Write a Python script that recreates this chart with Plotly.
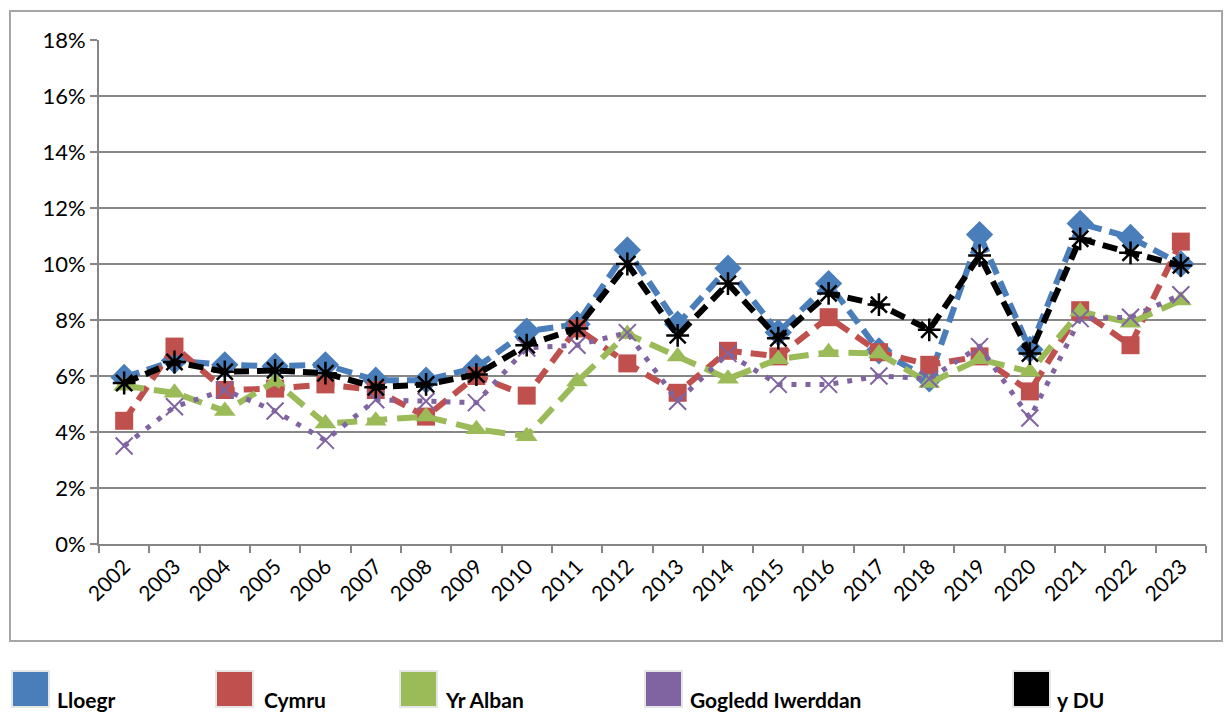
import plotly.graph_objects as go

years = [str(y) for y in range(2002, 2024)]

lloegr = [5.95, 6.55, 6.4, 6.35, 6.4, 5.85, 5.85, 6.3, 7.6, 7.85, 10.5, 7.85, 9.85, 7.55, 9.3, 6.9, 5.9, 11.05, 6.95, 11.45, 10.95, 10.0]
cymru = [4.4, 7.05, 5.5, 5.55, 5.7, 5.5, 4.55, 6.0, 5.3, 7.7, 6.45, 5.4, 6.9, 6.7, 8.1, 6.85, 6.4, 6.7, 5.45, 8.35, 7.1, 10.8]
yr_alban = [5.65, 5.4, 4.75, 5.8, 4.3, 4.4, 4.55, 4.1, 3.85, 5.8, 7.5, 6.7, 5.9, 6.6, 6.85, 6.8, 5.75, 6.6, 6.15, 8.3, 7.9, 8.7]
gogledd_iwerddan = [3.5, 4.9, 5.5, 4.75, 3.7, 5.15, 5.1, 5.05, 7.0, 7.1, 7.55, 5.1, 6.8, 5.7, 5.7, 6.0, 5.9, 7.05, 4.5, 8.05, 8.1, 8.9]
y_du = [5.75, 6.5, 6.15, 6.2, 6.1, 5.6, 5.7, 6.05, 7.1, 7.7, 10.0, 7.45, 9.3, 7.35, 8.95, 8.55, 7.65, 10.3, 6.8, 10.9, 10.4, 9.95]

names = ["Lloegr", "Cymru", "Yr Alban", "Gogledd Iwerddan", "y DU"]
colors = ["#4A7EBB", "#C0504D", "#9BBB59", "#8064A2", "#000000"]

FONT = "Lato, Open Sans, sans-serif"

fig = go.Figure()

styles = [
    dict(dash="16px,8px", width=6, symbol="diamond", size=21, mline=0),
    dict(dash="16px,9px", width=6, symbol="square", size=18, mline=0),
    dict(dash="20px,10px", width=6, symbol="triangle-up", size=19, mline=0),
    dict(dash="5px,9px", width=5, symbol="x-thin-open", size=17, mline=2),
    dict(dash="15px,8px", width=6, symbol="asterisk-open", size=19, mline=2.5),
]
series = [lloegr, cymru, yr_alban, gogledd_iwerddan, y_du]

for name, vals, col, st in zip(names, series, colors, styles):
    fig.add_trace(go.Scatter(
        x=years, y=vals, name=name, mode="lines+markers",
        line=dict(color=col, width=st["width"], dash=st["dash"]),
        marker=dict(symbol=st["symbol"], size=st["size"], color=col,
                    line=dict(color=col, width=st["mline"])),
        showlegend=False,
    ))

# plot area in pixels: x 99..1206, y 40..544
L, R, T, B = 99, 1206, 40, 544
W, H = R - L, B - T

def px(x):
    return (x - L) / W

def py(y):
    return (B - y) / H

shapes = [
    dict(type="rect", xref="paper", yref="paper",
         x0=px(10), x1=px(1222), y0=py(641), y1=py(11),
         line=dict(color="#A6A6A6", width=2), fillcolor="rgba(0,0,0,0)", layer="below"),
]
annotations = []
legend_pos = [(12, 55), (216, 262), (400, 443), (645, 688), (1013, 1055)]
for (x0, tx), name, col in zip(legend_pos, names, colors):
    shapes.append(dict(type="rect", xref="paper", yref="paper",
                       x0=px(x0), x1=px(x0 + 37), y0=py(707), y1=py(671),
                       line=dict(color="#E6E6E6", width=2), fillcolor=col))
    annotations.append(dict(xref="paper", yref="paper", x=px(tx), y=py(699),
                            text="<b>" + name + "</b>", showarrow=False,
                            xanchor="left", yanchor="middle",
                            font=dict(family=FONT, size=21, color="#000000")))

fig.update_layout(
    width=1224, height=713,
    margin=dict(l=L, r=1224 - R, t=T, b=713 - B),
    paper_bgcolor="white", plot_bgcolor="white",
    shapes=shapes, annotations=annotations,
    font=dict(family=FONT, color="#000000"),
)
fig.update_xaxes(
    type="category", tickangle=-45, tickson="boundaries",
    ticks="outside", ticklen=7, tickwidth=2, tickcolor="#868686",
    showline=True, linecolor="#868686", linewidth=2,
    showgrid=False, tickfont=dict(size=21, family=FONT),
    range=[-0.5, 21.5],
)
fig.update_yaxes(
    range=[0, 18], dtick=2, ticksuffix="%",
    ticks="outside", ticklen=7, tickwidth=2, tickcolor="#868686",
    showline=True, linecolor="#868686", linewidth=2,
    showgrid=True, gridcolor="#868686", gridwidth=2,
    zeroline=False, tickfont=dict(size=22, family=FONT),
)

fig.write_html("out.html", config={"displayModeBar": False},
               post_script="document.body.style.margin='0';document.body.style.overflow='hidden';")
